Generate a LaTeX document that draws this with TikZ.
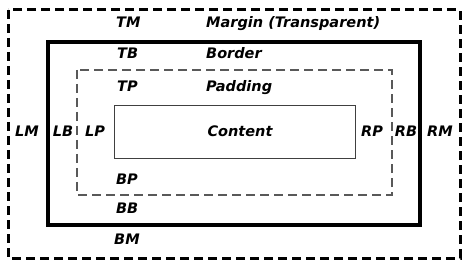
\documentclass[tikz,border=0pt]{standalone}
\usepackage{fontspec}
\setmainfont{DejaVu Sans}
\tikzset{
	lbl/.style={font=\bfseries\itshape\fontsize{14.5}{16}\selectfont, inner sep=0pt},
	marginline/.style={line width=3pt, dash pattern=on 9pt off 5pt},
	borderline/.style={line width=3.4pt},
	paddingline/.style={line width=1.2pt, gray!70!black, dash pattern=on 9pt off 5pt},
	contentline/.style={line width=1pt, black!75}
}
\begin{document}
\begin{tikzpicture}[x=1pt,y=-1pt]
\useasboundingbox (0,0) rectangle (474,267);
\fill[white] (0,0) rectangle (474,267);
% the four boxes, outside in
\draw[marginline] (8,10) rectangle (460,258);
\draw[borderline] (48,42) rectangle (420,225);
\draw[paddingline] (77,70) rectangle (392,195);
\draw[contentline] (114,106) rectangle (355,159);
% top and bottom labels, set on their baselines
\node[lbl, anchor=base west] (tm) at (116,28) {TM};
\node[lbl, anchor=base west] (tb) at (117,59) {TB};
\node[lbl, anchor=base west] (tp) at (117,92) {TP};
\node[lbl, anchor=base west] (bp) at (116,184) {BP};
\node[lbl, anchor=base west] (bb) at (116,213) {BB};
\node[lbl, anchor=base west] (bm) at (114,244) {BM};
\node[lbl, anchor=base west] (margin) at (206,28) {Margin (Transparent)};
\node[lbl, anchor=base west] (border) at (206,59) {Border};
\node[lbl, anchor=base west] (padding) at (206,92) {Padding};
\node[lbl, anchor=base] (content) at (240,136.5) {Content};
% side labels
\node[lbl, anchor=base] (lm) at (27,136.5) {LM};
\node[lbl, anchor=base] (lb) at (63,136.5) {LB};
\node[lbl, anchor=base] (lp) at (95,136.5) {LP};
\node[lbl, anchor=base] (rp) at (372,136.5) {RP};
\node[lbl, anchor=base] (rb) at (406,136.5) {RB};
\node[lbl, anchor=base] (rm) at (440,136.5) {RM};
\end{tikzpicture}
\end{document}
